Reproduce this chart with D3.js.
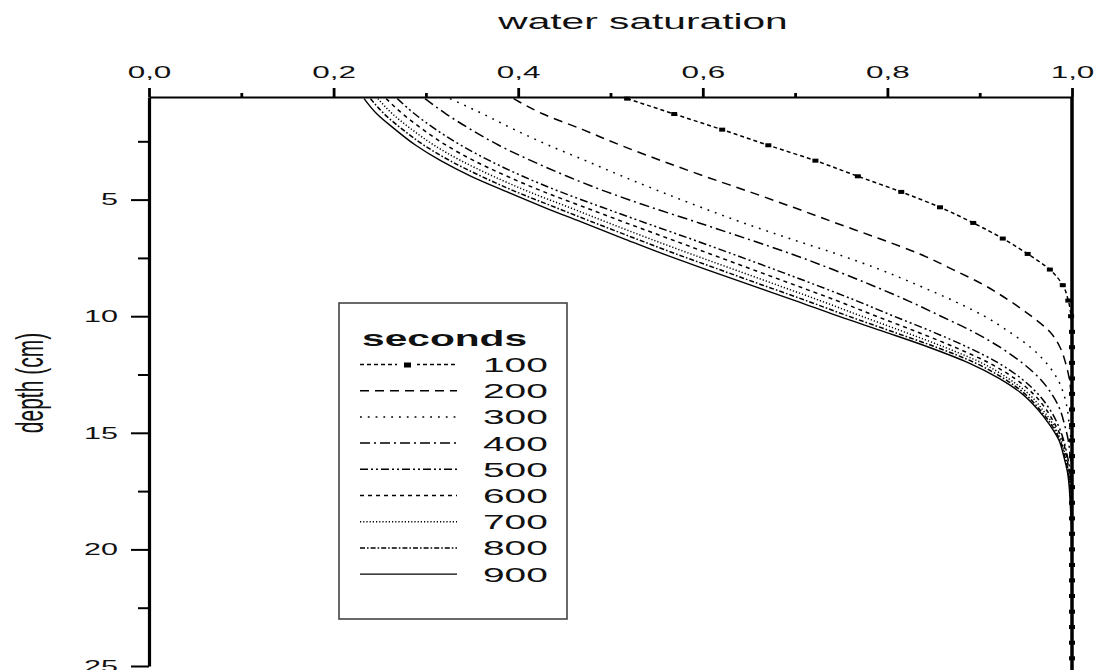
<!DOCTYPE html>
<html>
<head>
<meta charset="utf-8">
<script src="https://cdn.jsdelivr.net/npm/d3@7"></script>
<style>
  body { margin: 0; background: #fff; }
  svg { display: block; font-family: "Liberation Sans", Arial, sans-serif; }
</style>
</head>
<body>
<svg id="chart" width="1096" height="670"></svg>
<script>
// depth grid of the simulation (cm), one value per plotted point
const depthCm = [0.67, 1.33, 2, 2.67, 3.33, 4, 4.67, 5.33, 6, 6.67, 7.33, 8, 8.67, 9.33, 10,
  10.67, 11.33, 12, 12.67, 13.33, 14, 14.67, 15.33, 16, 16.67, 17.33, 18, 18.67, 19.33, 20,
  20.67, 21.33, 22, 22.67, 23.33, 24, 24.67];

// water saturation at each depth, one array per time (seconds)
const sat100 = [.518, .569, .621, .671, .722, .768, .815, .857, .893, .925, .952, .976, .990, .996, .999,
  1, 1, 1, 1, 1, 1, 1, 1, 1, 1, 1, 1, 1, 1, 1, 1, 1, 1, 1, 1, 1, 1];
const sat200 = [.395, .427, .470, .511, .555, .602, .651, .698, .744, .791, .835, .871, .905, .932, .956,
  .976, .987, .993, .997, .999, 1, 1, 1, 1, 1, 1, 1, 1, 1, 1, 1, 1, 1, 1, 1, 1, 1];
const sat300 = [.326, .362, .396, .433, .473, .513, .555, .598, .644, .694, .745, .792, .833, .871, .905,
  .932, .955, .972, .984, .991, .995, .997, .999, 1, 1, 1, 1, 1, 1, 1, 1, 1, 1, 1, 1, 1, 1];
const sat400 = [.299, .322, .349, .379, .414, .453, .496, .544, .596, .647, .696, .741, .783, .822, .858,
  .893, .922, .946, .965, .978, .987, .992, .996, .998, 1, 1, 1, 1, 1, 1, 1, 1, 1, 1, 1, 1, 1];
const sat500 = [.269, .288, .311, .338, .369, .405, .446, .491, .538, .586, .632, .678, .723, .766, .807,
  .849, .887, .920, .945, .963, .976, .985, .991, .995, .998, .999, 1, 1, 1, 1, 1, 1, 1, 1, 1, 1, 1];
const sat600 = [.257, .275, .297, .322, .352, .388, .428, .472, .517, .563, .608, .654, .700, .745, .788,
  .832, .873, .910, .938, .958, .972, .982, .990, .994, .997, .999, 1, 1, 1, 1, 1, 1, 1, 1, 1, 1, 1];
const sat700 = [.248, .264, .285, .309, .338, .373, .412, .455, .498, .542, .587, .634, .681, .727, .772,
  .818, .862, .902, .931, .953, .968, .980, .988, .993, .996, .998, .999, 1, 1, 1, 1, 1, 1, 1, 1, 1, 1];
const sat800 = [.240, .255, .275, .298, .326, .360, .398, .440, .483, .527, .571, .618, .665, .712, .758,
  .806, .853, .895, .926, .949, .965, .978, .987, .992, .996, .998, .999, 1, 1, 1, 1, 1, 1, 1, 1, 1, 1];
const sat900 = [.233, .247, .267, .289, .316, .349, .388, .428, .471, .514, .557, .604, .652, .700, .747,
  .797, .845, .888, .921, .946, .963, .976, .986, .991, .995, .997, .998, .999, 1, 1, 1, 1, 1, 1, 1, 1, 1];

const seriesNames = ["100", "200", "300", "400", "500", "600", "700", "800", "900"];
const seriesValues = [sat100, sat200, sat300, sat400, sat500, sat600, sat700, sat800, sat900];

// tick values
const xMajorTicks = [0, 0.2, 0.4, 0.6, 0.8, 1.0];
const xMinorTicks = [0.1, 0.3, 0.5, 0.7, 0.9];
const yMajorTicks = [5, 10, 15, 20, 25];
const yMinorTicks = [2.5, 7.5, 12.5, 17.5, 22.5];

// line style per series (same order as seriesNames)
const dashStyles = ["4,3", "9,6", "1.8,6", "10,4,2,4", "8,3,2,3,2,3", "4,4", "1.2,2", "5,2,1.6,2", null];

const svg = d3.select("#chart");
const STRETCH = "scale(1.85,1)"; // the original glyphs are wide

const x = d3.scaleLinear().domain([0, 1]).range([149, 1072]);
const y = d3.scaleLinear().domain([0.6, 25]).range([97, 666]);

// --- curves ---
const line = d3.line()
  .x(d => x(d.s))
  .y(d => y(d.depth))
  .curve(d3.curveMonotoneY);

const curves = svg.append("g").attr("class", "curves");
seriesValues.forEach((vals, i) => {
  const pts = vals.map((s, j) => ({ s: s, depth: depthCm[j] }));
  curves.append("path")
    .datum(pts)
    .attr("d", line)
    .attr("fill", "none")
    .attr("stroke", "#000")
    .attr("stroke-width", i === 8 ? 1.4 : 1.5)
    .attr("stroke-dasharray", dashStyles[i]);
});

// square markers on the 100 s curve
curves.append("g")
  .selectAll("rect")
  .data(sat100.map((s, j) => ({ s: s, depth: depthCm[j] })))
  .join("rect")
    .attr("x", d => x(d.s) - 3)
    .attr("y", d => y(d.depth) - 2)
    .attr("width", 6)
    .attr("height", 4)
    .attr("fill", "#000");

// right border at saturation 1
svg.append("line")
  .attr("x1", x(1)).attr("x2", x(1))
  .attr("y1", y(0.6)).attr("y2", y(25) + 4)
  .attr("stroke", "#000")
  .attr("stroke-width", 3.5);

// --- top axis ---
const commaFmt = d => d3.format(".1f")(d).replace(".", ",");

const xAxisG = svg.append("g")
  .attr("transform", `translate(0,${y(0.6)})`)
  .call(d3.axisTop(x).tickValues(xMajorTicks).tickSize(9).tickSizeOuter(0)
    .tickPadding(10).tickFormat(commaFmt));
xAxisG.select(".domain").attr("stroke-width", 2.2);
xAxisG.selectAll(".tick line").attr("stroke-width", 2.8);
xAxisG.selectAll(".tick text")
  .attr("font-size", 17)
  .attr("font-family", "Liberation Sans, Arial, sans-serif")
  .attr("fill", "#111")
  .attr("transform", STRETCH);

svg.append("g")
  .attr("transform", `translate(0,${y(0.6)})`)
  .call(d3.axisTop(x).tickValues(xMinorTicks).tickSize(4).tickFormat(""))
  .call(g => g.select(".domain").remove())
  .selectAll(".tick line").attr("stroke-width", 2.8);

// --- left axis ---
const yAxisG = svg.append("g")
  .attr("transform", `translate(${x(0)},0)`)
  .call(d3.axisLeft(y).tickValues(yMajorTicks).tickSize(18).tickSizeOuter(0));
yAxisG.select(".domain").attr("stroke-width", 3.2);
yAxisG.selectAll(".tick line").attr("stroke-width", 2);
yAxisG.selectAll(".tick text")
  .attr("x", 0)
  .attr("font-size", 16.5)
  .attr("font-family", "Liberation Sans, Arial, sans-serif")
  .attr("fill", "#111")
  .attr("transform", "translate(-31,0) " + STRETCH);

svg.append("g")
  .attr("transform", `translate(${x(0)},0)`)
  .call(d3.axisLeft(y).tickValues(yMinorTicks).tickSize(11).tickFormat(""))
  .call(g => g.select(".domain").remove())
  .selectAll(".tick line").attr("stroke-width", 2);

// --- titles ---
svg.append("text")
  .attr("transform", "translate(643,29) " + STRETCH)
  .attr("text-anchor", "middle")
  .attr("font-size", 22)
  .attr("fill", "#111")
  .text("water saturation");

svg.append("text")
  .attr("transform", "translate(43,383) rotate(-90) scale(1,1.85)")
  .attr("text-anchor", "middle")
  .attr("font-size", 21)
  .attr("fill", "#111")
  .text("depth (cm)");

// --- legend ---
const legend = svg.append("g").attr("class", "legend");
legend.append("rect")
  .attr("x", 339).attr("y", 303)
  .attr("width", 228).attr("height", 316)
  .attr("fill", "#fff")
  .attr("stroke", "#444")
  .attr("stroke-width", 1.6);

legend.append("text")
  .attr("transform", "translate(362,346) " + STRETCH)
  .attr("font-size", 22)
  .attr("font-weight", "bold")
  .attr("fill", "#111")
  .text("seconds");

seriesNames.forEach((name, i) => {
  const base = 372 + i * 26.2;
  const ly = base - 7.5;
  legend.append("line")
    .attr("x1", 360).attr("x2", 457)
    .attr("y1", ly).attr("y2", ly)
    .attr("stroke", "#000")
    .attr("stroke-width", i === 8 ? 1.4 : 1.5)
    .attr("stroke-dasharray", dashStyles[i]);
  if (i === 0) {
    legend.append("rect")
      .attr("x", 397).attr("y", ly - 8).attr("width", 20).attr("height", 16)
      .attr("fill", "#fff");
    legend.append("rect")
      .attr("x", 404).attr("y", ly - 2).attr("width", 7).attr("height", 5)
      .attr("fill", "#000");
  }
  legend.append("text")
    .attr("transform", `translate(483,${base}) ` + STRETCH)
    .attr("font-size", 21)
    .attr("fill", "#111")
    .text(name);
});
</script>
</body>
</html>
